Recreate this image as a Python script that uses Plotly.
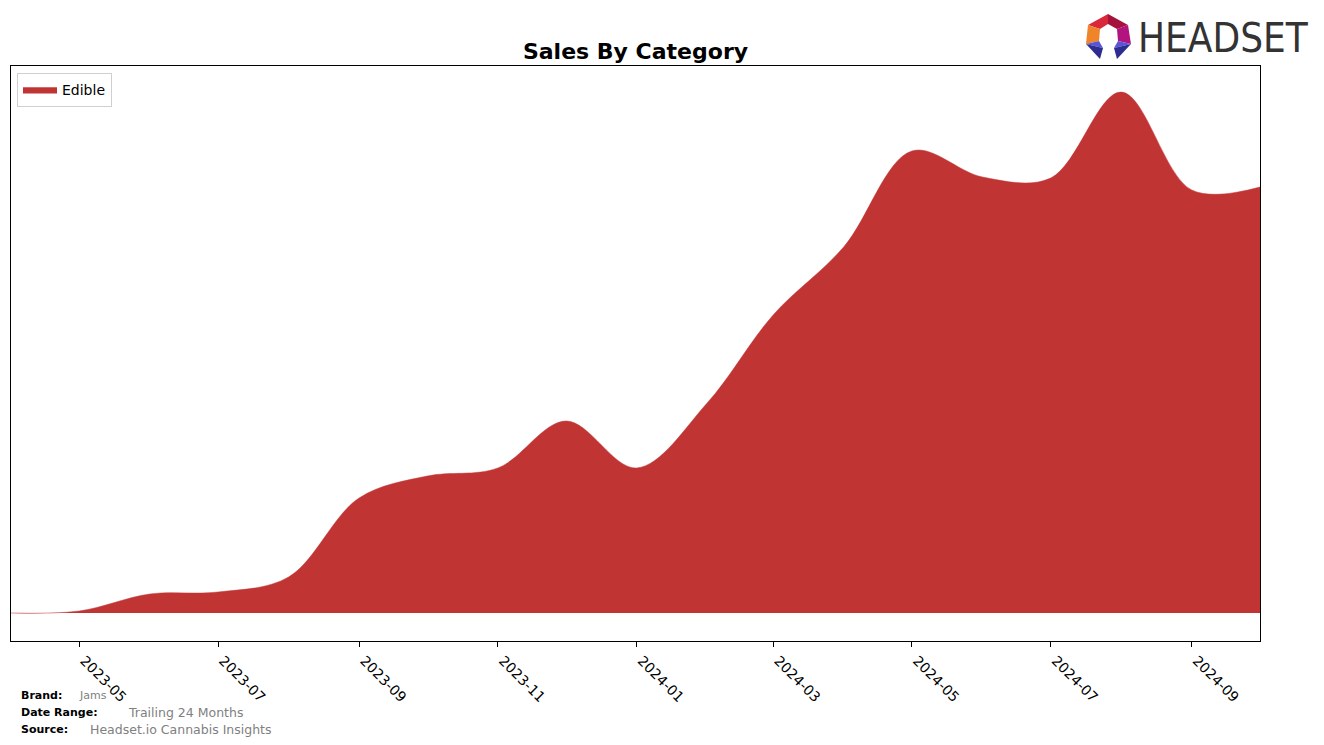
import plotly.graph_objects as go

# ---- data ----
months = ["2023-04-01", "2023-05-01", "2023-06-01", "2023-07-01", "2023-08-01",
          "2023-09-01", "2023-10-01", "2023-11-01", "2023-12-01", "2024-01-01",
          "2024-02-01", "2024-03-01", "2024-04-01", "2024-05-01", "2024-06-01",
          "2024-07-01", "2024-08-01", "2024-09-01", "2024-10-01"]
edible_sales = [0, 2, 19, 21, 36, 115, 137, 145, 192, 145,
                210, 298, 366, 462, 436, 435, 521, 423, 426]
tick_vals = ["2023-05-01", "2023-07-01", "2023-09-01", "2023-11-01", "2024-01-01",
             "2024-03-01", "2024-05-01", "2024-07-01", "2024-09-01"]
tick_text = ["2023-05", "2023-07", "2023-09", "2023-11", "2024-01",
             "2024-03", "2024-05", "2024-07", "2024-09"]

W, H = 1324, 745
L, R, T, B = 11, 1260, 66, 641


def px(x):
    return (x - L) / (R - L)


def py(y):
    return (B - y) / (B - T)


RED = "#c03434"

fig = go.Figure()
fig.add_trace(go.Scatter(
    x=months, y=edible_sales, name="Edible", mode="lines",
    line=dict(shape="spline", smoothing=1.0, color=RED, width=0.5),
    fill="tozeroy", fillcolor=RED, hoverinfo="x+y"))

fig.update_layout(
    width=W, height=H,
    margin=dict(l=L, r=W - R, t=T, b=H - B),
    paper_bgcolor="white", plot_bgcolor="white",
    font=dict(family="DejaVu Sans", color="black"),
    title=dict(text="<b>Sales By Category</b>", x=px(635.5), xref="paper",
               xanchor="center", y=1 - 51 / H, yanchor="middle",
               font=dict(size=22, family="DejaVu Sans", color="black")),
    showlegend=True,
    legend=dict(x=px(17), y=py(73), xanchor="left", yanchor="top",
                bgcolor="white", bordercolor="#d0d0d0", borderwidth=1,
                font=dict(size=14, family="DejaVu Sans", color="black"),
                itemwidth=34, tracegroupgap=0),
    xaxis=dict(range=["2023-04-01", "2024-10-01"], tickmode="array",
               tickvals=tick_vals, ticktext=tick_text, tickangle=45,
               ticks="outside", ticklen=5, tickcolor="black", tickwidth=1,
               ticklabelshift=5,
               showline=True, linecolor="black", linewidth=1, mirror=True,
               showgrid=False, zeroline=False,
               tickfont=dict(size=14, family="DejaVu Sans", color="black")),
    yaxis=dict(range=[-28, 547], showticklabels=False, ticks="",
               showline=True, linecolor="black", linewidth=1, mirror=True,
               showgrid=False, zeroline=False),
)

# footer
foot = [
    ("<b>Brand:</b>", 19, 696, 11, "black"),
    ("Jams", 77, 696, 11, "#808080"),
    ("<b>Date Range:</b>", 19, 713, 11, "black"),
    ("Trailing 24 Months", 126, 713, 12.5, "#808080"),
    ("<b>Source:</b>", 19, 729, 11, "black"),
    ("Headset.io Cannabis Insights", 88, 729, 12.5, "#808080"),
]
for txt, x, y, s, c in foot:
    fig.add_annotation(text=txt, x=px(x), y=py(y), xref="paper", yref="paper",
                       xanchor="left", yanchor="middle", showarrow=False,
                       font=dict(size=s, family="DejaVu Sans", color=c))

# logo text
fig.add_annotation(text="HEADSET", x=px(1136), y=py(38), xref="paper", yref="paper",
                   xanchor="left", yanchor="middle", showarrow=False,
                   font=dict(size=40, family="DejaVu Sans Condensed, Liberation Sans Narrow, Roboto, sans-serif",
                             color="#333333"))

# logo icon polygons (pixel coords)
polys = [
    ([(1108, 14), (1088, 25), (1100, 29), (1108, 24)], "#d8283a"),
    ([(1108, 14), (1128, 25), (1117, 29), (1108, 24)], "#a5133c"),
    ([(1088, 25), (1086, 44), (1099, 41), (1100, 29)], "#f0842a"),
    ([(1128, 25), (1131, 44), (1118, 41), (1117, 29)], "#b3137e"),
    ([(1086, 44), (1099, 41), (1103, 48)], "#5856d6"),
    ([(1086, 44), (1103, 48), (1100, 59)], "#2e2d8f"),
    ([(1131, 44), (1118, 41), (1114, 48)], "#5856d6"),
    ([(1131, 44), (1114, 48), (1117, 59)], "#2e2d8f"),
]
for pts, col in polys:
    path = "M " + " L ".join(f"{px(x):.5f},{py(y):.5f}" for x, y in pts) + " Z"
    fig.add_shape(type="path", path=path, xref="paper", yref="paper",
                  fillcolor=col, line=dict(width=0))

fig.write_html("out.html")
